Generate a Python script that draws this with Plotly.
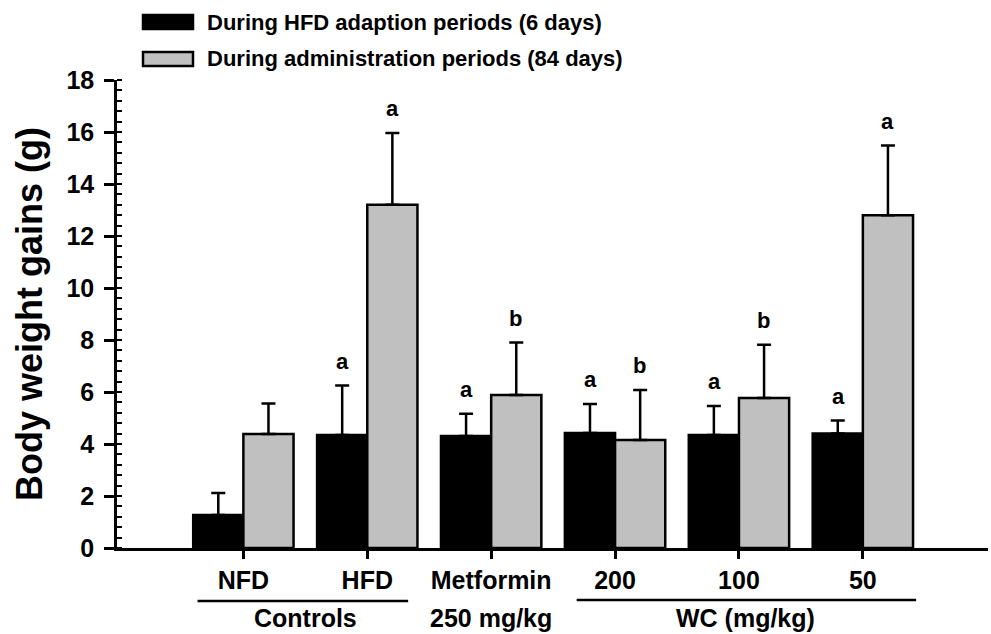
import plotly.graph_objects as go

# ---- data ----
categories = ["NFD", "HFD", "Metformin", "200", "100", "50"]
series_names = ["During HFD adaption periods (6 days)", "During administration periods (84 days)"]
adapt_vals = [1.27, 4.35, 4.31, 4.42, 4.35, 4.40]
adapt_err = [0.85, 1.90, 0.85, 1.12, 1.11, 0.50]
admin_vals = [4.38, 13.2, 5.88, 4.15, 5.77, 12.8]
admin_err = [1.18, 2.76, 2.02, 1.93, 2.05, 2.68]
adapt_letters = ["", "a", "a", "a", "a", "a"]
admin_letters = ["", "a", "b", "b", "b", "a"]
y_ticks = [0, 2, 4, 6, 8, 10, 12, 14, 16, 18]
second_row = [("Controls", 0.5), ("250 mg/kg", 2), ("WC (mg/kg)", 4.05)]

W, H = 991, 634
L, R, T, B = 117, 3, 80, 86
FONT = "Arial, Liberation Sans, sans-serif"
GRAY = "#c0c0c0"

def py(ypix):
    return (H - B - ypix) / (H - T - B)

def px(xpix):
    return (xpix - L) / (W - L - R)

xs = list(range(len(categories)))
fig = go.Figure()
err_style = dict(type="data", symmetric=False, thickness=2.5, width=7, color="black")
fig.add_trace(go.Bar(
    x=xs, y=adapt_vals, name=series_names[0], marker=dict(color="black", line=dict(color="black", width=2.5)),
    error_y=dict(array=adapt_err, arrayminus=[0] * 6, **err_style), showlegend=False))
fig.add_trace(go.Bar(
    x=xs, y=admin_vals, name=series_names[1], marker=dict(color=GRAY, line=dict(color="black", width=2.5)),
    error_y=dict(array=admin_err, arrayminus=[0] * 6, **err_style), showlegend=False))

ann = []
for i in xs:
    if adapt_letters[i]:
        ann.append(dict(x=i - 0.2, y=adapt_vals[i] + adapt_err[i] + 0.93, xref="x", yref="y",
                        text=adapt_letters[i], showarrow=False, font=dict(size=22, family=FONT, color="black", weight="bold")))
    if admin_letters[i]:
        ann.append(dict(x=i + 0.2, y=admin_vals[i] + admin_err[i] + 0.93, xref="x", yref="y",
                        text=admin_letters[i], showarrow=False, font=dict(size=22, family=FONT, color="black", weight="bold")))

# second row of category labels
for txt, xv in second_row:
    ann.append(dict(x=xv, y=py(618), xref="x", yref="paper", text=txt, showarrow=False,
                    yanchor="middle", font=dict(size=25, family=FONT, color="black", weight="bold")))

# y axis title
ann.append(dict(x=px(29), y=0.5, xref="paper", yref="paper", text="Body weight gains (g)", textangle=-90,
                showarrow=False, xanchor="center", yanchor="middle",
                font=dict(size=36, family=FONT, color="black", weight="bold")))

# legend (custom, wide swatches)
shapes = []
legend_rows = [(22, "black"), (59, GRAY)]
for (yc, col), name in zip(legend_rows, series_names):
    shapes.append(dict(type="rect", xref="paper", yref="paper", x0=px(143), x1=px(193), y0=py(yc + 7), y1=py(yc - 7),
                       fillcolor=col, line=dict(color="black", width=2.5)))
    ann.append(dict(x=px(205), y=py(yc), xref="paper", yref="paper", text=name, showarrow=False,
                    xanchor="left", yanchor="middle", font=dict(size=22, family=FONT, color="black", weight="bold")))

# group underlines
shapes.append(dict(type="line", xref="x", yref="paper", x0=-0.37, x1=1.33, y0=py(601), y1=py(601),
                   line=dict(color="black", width=2.5)))
shapes.append(dict(type="line", xref="x", yref="paper", x0=2.69, x1=5.43, y0=py(600), y1=py(600),
                   line=dict(color="black", width=2.5)))

fig.update_layout(
    width=W, height=H, margin=dict(l=L, r=R, t=T, b=B),
    paper_bgcolor="white", plot_bgcolor="white",
    barmode="group", bargap=0.19, bargroupgap=0,
    annotations=ann, shapes=shapes,
    font=dict(family=FONT, color="black"),
)
fig.update_xaxes(
    range=[-1.02, 6.01], tickmode="array", tickvals=xs, ticktext=categories,
    showline=True, linecolor="black", linewidth=2.5, ticks="outside", ticklen=8, tickwidth=2.5,
    tickcolor="black", showgrid=False, zeroline=False,
    tickfont=dict(size=25, family=FONT, color="black", weight="bold"),
)
fig.update_yaxes(
    range=[0, 18], tickmode="array", tickvals=y_ticks,
    showline=True, linecolor="black", linewidth=2.5, ticks="outside", ticklen=10, tickwidth=2.5,
    tickcolor="black", showgrid=False, zeroline=False, ticklabelstandoff=5,
    tickfont=dict(size=25, family=FONT, color="black", weight="bold"),
    minor=dict(ticks="inside", dtick=0.4, ticklen=5, tickwidth=2, tickcolor="black", showgrid=False),
)

fig.write_html("out.html", config={"displayModeBar": False},
               post_script="document.body.style.margin='0';document.body.style.overflow='hidden';")
